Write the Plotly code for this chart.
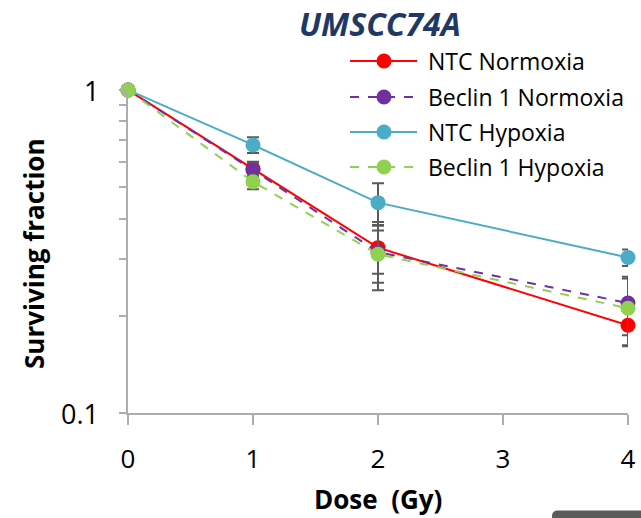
import math
import plotly.graph_objects as go

# ---- data ----
dose = [0, 1, 2, 4]
series_names = ["NTC Normoxia", "Beclin 1 Normoxia", "NTC Hypoxia", "Beclin 1 Hypoxia"]
ntc_normoxia = [1.0, 0.57, 0.325, 0.187]
ntc_normoxia_err = [0, 0.03, 0.055, 0.025]
beclin_normoxia = [1.0, 0.565, 0.315, 0.219]
beclin_normoxia_err = [0, 0.03, 0.075, 0.045]
ntc_hypoxia = [1.0, 0.676, 0.448, 0.303]
ntc_hypoxia_err = [0, 0.038, 0.066, 0.018]
beclin_hypoxia = [1.0, 0.52, 0.31, 0.211]
beclin_hypoxia_err = [0, 0.027, 0.057, 0.05]
x_ticks = [0, 1, 2, 3, 4]
y_ticks = [0.1, 1]
y_tick_text = ["0.1", "1"]
y_minor = [0.2, 0.3, 0.4, 0.5, 0.6, 0.7, 0.8, 0.9]

colors = ["#FF0000", "#7030A0", "#4BACC6", "#92D050"]
dashes = ["solid", "dash", "solid", "dash"]
values = [ntc_normoxia, beclin_normoxia, ntc_hypoxia, beclin_hypoxia]
errors = [ntc_normoxia_err, beclin_normoxia_err, ntc_hypoxia_err, beclin_hypoxia_err]

W, H = 641, 518
L, R, T, B = 128, 13, 90, 105
FONT = "Open Sans"

fig = go.Figure()
for name, v, e, c, d in zip(series_names, values, errors, colors, dashes):
    fig.add_trace(go.Scatter(
        x=dose, y=v, name=name, mode="lines+markers",
        line=dict(color=c, width=2, dash=d),
        marker=dict(color=c, size=15),
        error_y=dict(type="data", array=e, visible=True, color="#5A5A5A", thickness=2, width=6),
        cliponaxis=False, showlegend=False,
    ))

# pixel -> paper helpers (for legend / decoration placement)
pw, ph = W - L - R, H - T - B
def px(x):
    return (x - L) / pw
def py(y):
    return (H - B - y) / ph

shapes = []
annotations = []
leg_x0, leg_x1, leg_mid, leg_text = 350, 417, 384, 426
leg_rows = [61, 97, 132, 167]
for name, c, d, yy in zip(series_names, colors, dashes, leg_rows):
    shapes.append(dict(type="line", xref="paper", yref="paper",
                       x0=px(leg_x0), x1=px(leg_x1), y0=py(yy), y1=py(yy),
                       line=dict(color=c, width=2, dash=d)))
    r = 7.5
    shapes.append(dict(type="circle", xref="paper", yref="paper",
                       x0=px(leg_mid - r), x1=px(leg_mid + r), y0=py(yy + r), y1=py(yy - r),
                       fillcolor=c, line=dict(color=c, width=0)))
    annotations.append(dict(text=name, xref="paper", yref="paper", x=px(leg_text), y=py(yy),
                            xanchor="left", yanchor="middle", showarrow=False,
                            font=dict(family=FONT, size=23, color="#000000")))

# y tick labels, right-aligned, placed through the log y axis
for v, t in zip(y_ticks, y_tick_text):
    annotations.append(dict(text=t, xref="paper", yref="y", x=px(100), y=math.log10(v),
                            xanchor="right", yanchor="middle", showarrow=False, borderpad=0,
                            font=dict(family=FONT, size=27, color="#000000")))

# grey rounded tab at bottom right (screenshot artifact)
shapes.append(dict(type="path", xref="paper", yref="paper",
                   path=f"M {px(552)},{py(519)} L {px(552)},{py(516)} Q {px(552)},{py(510.5)} {px(558)},{py(510.5)} "
                        f"L {px(642)},{py(510.5)} L {px(642)},{py(519)} Z",
                   fillcolor="#5B5B5B", line=dict(width=0)))

annotations.append(dict(text="<b><i>UMSCC74A</i></b>", xref="paper", yref="paper",
                        x=px(380), y=py(23), xanchor="center", yanchor="middle", showarrow=False,
                        borderpad=0,
                        font=dict(family=FONT, size=32, color="#1F3864")))
annotations.append(dict(text="<b>Dose  (Gy)</b>", xref="paper", yref="paper",
                        x=px(378), y=py(499), xanchor="center", yanchor="middle", showarrow=False,
                        borderpad=0,
                        font=dict(family=FONT, size=26, color="#000000")))
annotations.append(dict(text="<b>Surviving fraction</b>", xref="paper", yref="paper",
                        x=px(34), y=py(254), xanchor="center", yanchor="middle", showarrow=False,
                        textangle=-90, font=dict(family=FONT, size=26, color="#000000")))

fig.update_layout(
    width=W, height=H,
    margin=dict(l=L, r=R, t=T, b=B),
    plot_bgcolor="white", paper_bgcolor="white",
    font=dict(family=FONT, size=26, color="#000000"),
    shapes=shapes, annotations=annotations,
    xaxis=dict(range=[0, 4], tickvals=x_ticks, ticks="outside", ticklen=10, tickwidth=2,
               tickcolor="#ADADAD", showline=True, linecolor="#ADADAD", linewidth=2,
               showgrid=False, zeroline=False, automargin=False,
               tickfont=dict(family=FONT, size=26), ticklabelstandoff=12),
    yaxis=dict(type="log", range=[-1, 0], tickvals=y_ticks, showticklabels=False,
               ticks="outside", ticklen=7, tickwidth=2, tickcolor="#ADADAD",
               showline=True, linecolor="#ADADAD", linewidth=2,
               showgrid=False, zeroline=False, automargin=False,
               minor=dict(tickvals=y_minor, ticks="outside", ticklen=7, tickwidth=2, tickcolor="#ADADAD", showgrid=False)),
)

fig.write_html("out.html")
